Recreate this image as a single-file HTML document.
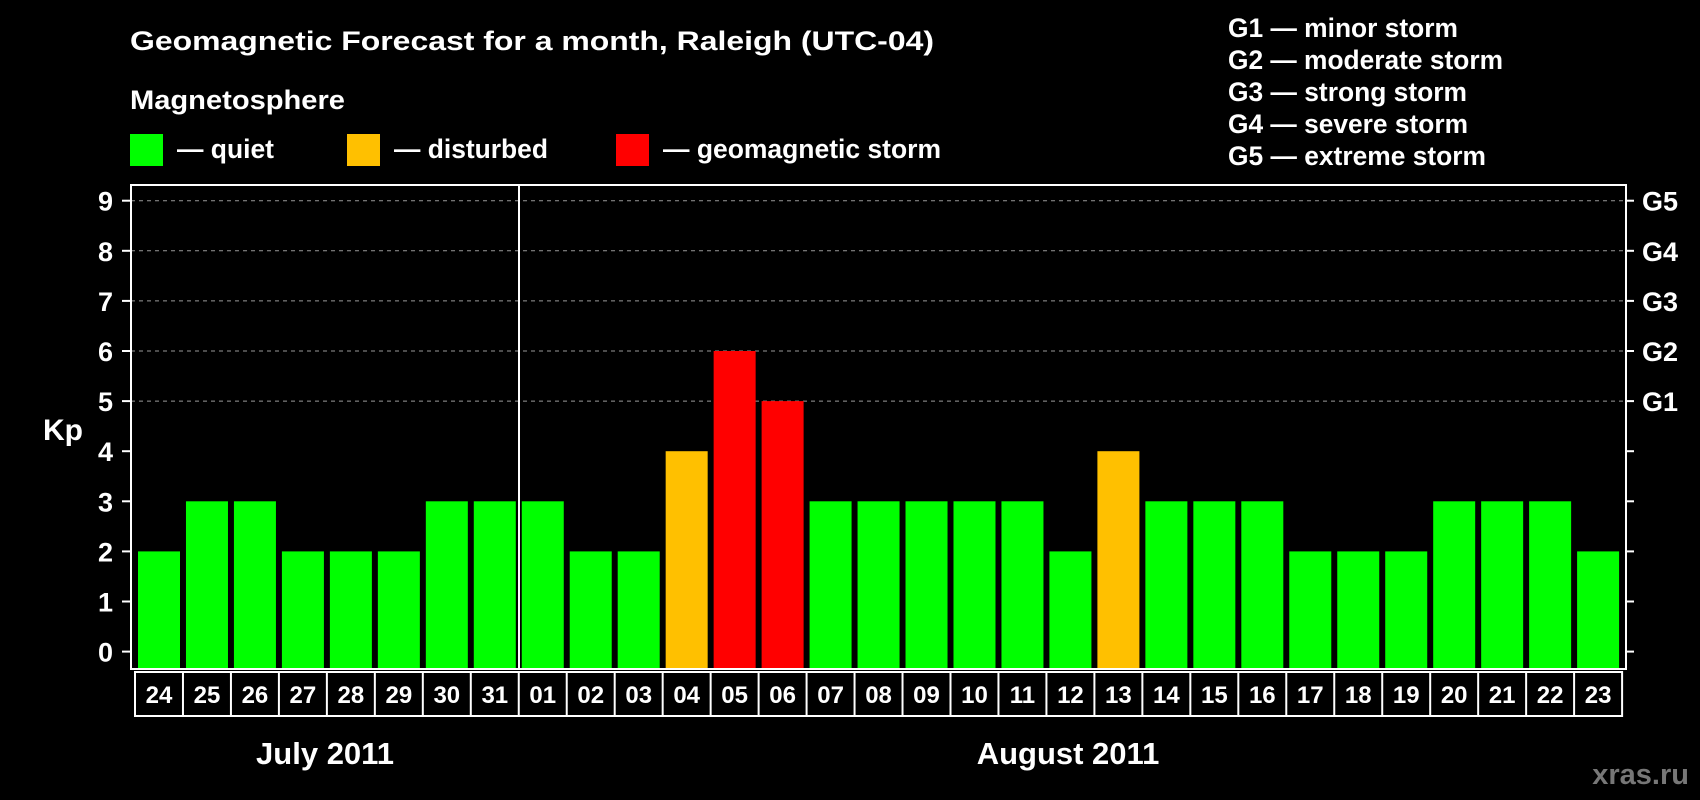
<!DOCTYPE html>
<html><head><meta charset="utf-8"><style>
html,body{margin:0;padding:0;background:#000;}
svg{display:block;font-family:"Liberation Sans",sans-serif;font-weight:bold;}
</style></head><body>
<svg id="chart" width="1700" height="800" viewBox="0 0 1700 800" xmlns="http://www.w3.org/2000/svg">
<rect x="0" y="0" width="1700" height="800" fill="#000"/>
<text x="130" y="50" fill="#fff" font-size="27" textLength="804" lengthAdjust="spacingAndGlyphs">Geomagnetic Forecast for a month, Raleigh (UTC-04)</text>
<text x="130" y="109" fill="#fff" font-size="27" textLength="215" lengthAdjust="spacingAndGlyphs">Magnetosphere</text>
<g>
<rect x="130" y="134" width="33" height="32" fill="#00ff00"/>
<text x="177" y="158" fill="#fff" font-size="26.5" textLength="97" lengthAdjust="spacingAndGlyphs">— quiet</text></g>
<g>
<rect x="347" y="134" width="33" height="32" fill="#ffc000"/>
<text x="394" y="158" fill="#fff" font-size="26.5" textLength="154" lengthAdjust="spacingAndGlyphs">— disturbed</text></g>
<g>
<rect x="616" y="134" width="33" height="32" fill="#ff0000"/>
<text x="663" y="158" fill="#fff" font-size="26.5" textLength="278" lengthAdjust="spacingAndGlyphs">— geomagnetic storm</text></g>
<g fill="#fff" font-size="26.5" lengthAdjust="spacingAndGlyphs">
<text x="1228" y="37" textLength="230" lengthAdjust="spacingAndGlyphs">G1 — minor storm</text>
<text x="1228" y="69" textLength="275" lengthAdjust="spacingAndGlyphs">G2 — moderate storm</text>
<text x="1228" y="101" textLength="239" lengthAdjust="spacingAndGlyphs">G3 — strong storm</text>
<text x="1228" y="133" textLength="240" lengthAdjust="spacingAndGlyphs">G4 — severe storm</text>
<text x="1228" y="165" textLength="258" lengthAdjust="spacingAndGlyphs">G5 — extreme storm</text>
</g>
<text x="43" y="440" fill="#fff" font-size="30">Kp</text>
<g id="grid"></g>
<g id="bars"></g>
<rect x="131" y="185" width="1495" height="484" fill="none" stroke="#fff" stroke-width="2"/>
<line x1="519" y1="185" x2="519" y2="669" stroke="#fff" stroke-width="2"/>
<g id="xlabels"></g>
<text x="325" y="764" fill="#fff" font-size="31" text-anchor="middle">July 2011</text>
<text x="1068" y="764" fill="#fff" font-size="31" text-anchor="middle">August 2011</text>
<text x="1689" y="784" fill="#777" font-size="29" text-anchor="end">xras.ru</text>
</svg>
<script>
const days=["24","25","26","27","28","29","30","31","01","02","03","04","05","06","07","08","09","10","11","12","13","14","15","16","17","18","19","20","21","22","23"];
const kp=[2,3,3,2,2,2,3,3,3,2,2,4,6,5,3,3,3,3,3,2,4,3,3,3,2,2,2,3,3,3,2];
const yTicks=[0,1,2,3,4,5,6,7,8,9];
const gLabels=["G1","G2","G3","G4","G5"];
const gLevels=[5,6,7,8,9];
const NS="http://www.w3.org/2000/svg";
const y0=651.6,unit=50.1,x0=138,pitch=47.97,bw=42,yBase=669;
const Y=v=>y0-v*unit;
const X=i=>x0+i*pitch;
function mk(t,a,p){const e=document.createElementNS(NS,t);for(const k in a)e.setAttribute(k,a[k]);p.appendChild(e);return e;}
const grid=document.getElementById('grid');
yTicks.forEach(v=>{
 if(v>=5){const l=mk('line',{x1:131,x2:1626,y1:Y(v),y2:Y(v),stroke:'#999','stroke-dasharray':'4,4','stroke-width':1},grid);
 
 }
 const t=mk('line',{x1:122,x2:131,y1:Y(v),y2:Y(v),stroke:'#fff','stroke-width':2},grid);
 
 
 const r=mk('line',{x1:1626,x2:1634,y1:Y(v),y2:Y(v),stroke:'#fff','stroke-width':2},grid);
 
 
 const tx=mk('text',{x:113,y:Y(v)+10,fill:'#fff','font-size':27,'text-anchor':'end'},grid);tx.textContent=v;
 
 
});
gLabels.forEach((g,i)=>{
 const tx=mk('text',{x:1642,y:Y(gLevels[i])+10,fill:'#fff','font-size':27},grid);tx.textContent=g;
 
 
});
const bars=document.getElementById('bars');
kp.forEach((v,i)=>{
 const c=v>=5?'#ff0000':(v>=4?'#ffc000':'#00ff00');
 const r=mk('rect',{x:X(i),y:Y(v),width:bw,height:yBase-Y(v),fill:c},bars);
 
 
});
const xl=document.getElementById('xlabels');
const bx0=X(0)-3,bx1=X(days.length-1)+bw+3;
const fr=mk('rect',{x:bx0,y:672,width:bx1-bx0,height:44,fill:'none',stroke:'#fff','stroke-width':2},xl);


days.forEach((d,i)=>{
 if(i>0){const l=mk('line',{x1:X(i)-3,x2:X(i)-3,y1:672,y2:716,stroke:'#fff','stroke-width':2},xl);
 
 }
 const t=mk('text',{x:X(i)+bw/2,y:703,fill:'#fff','font-size':24,'text-anchor':'middle'},xl);t.textContent=d;
 
 
});
</script>
</body></html>
